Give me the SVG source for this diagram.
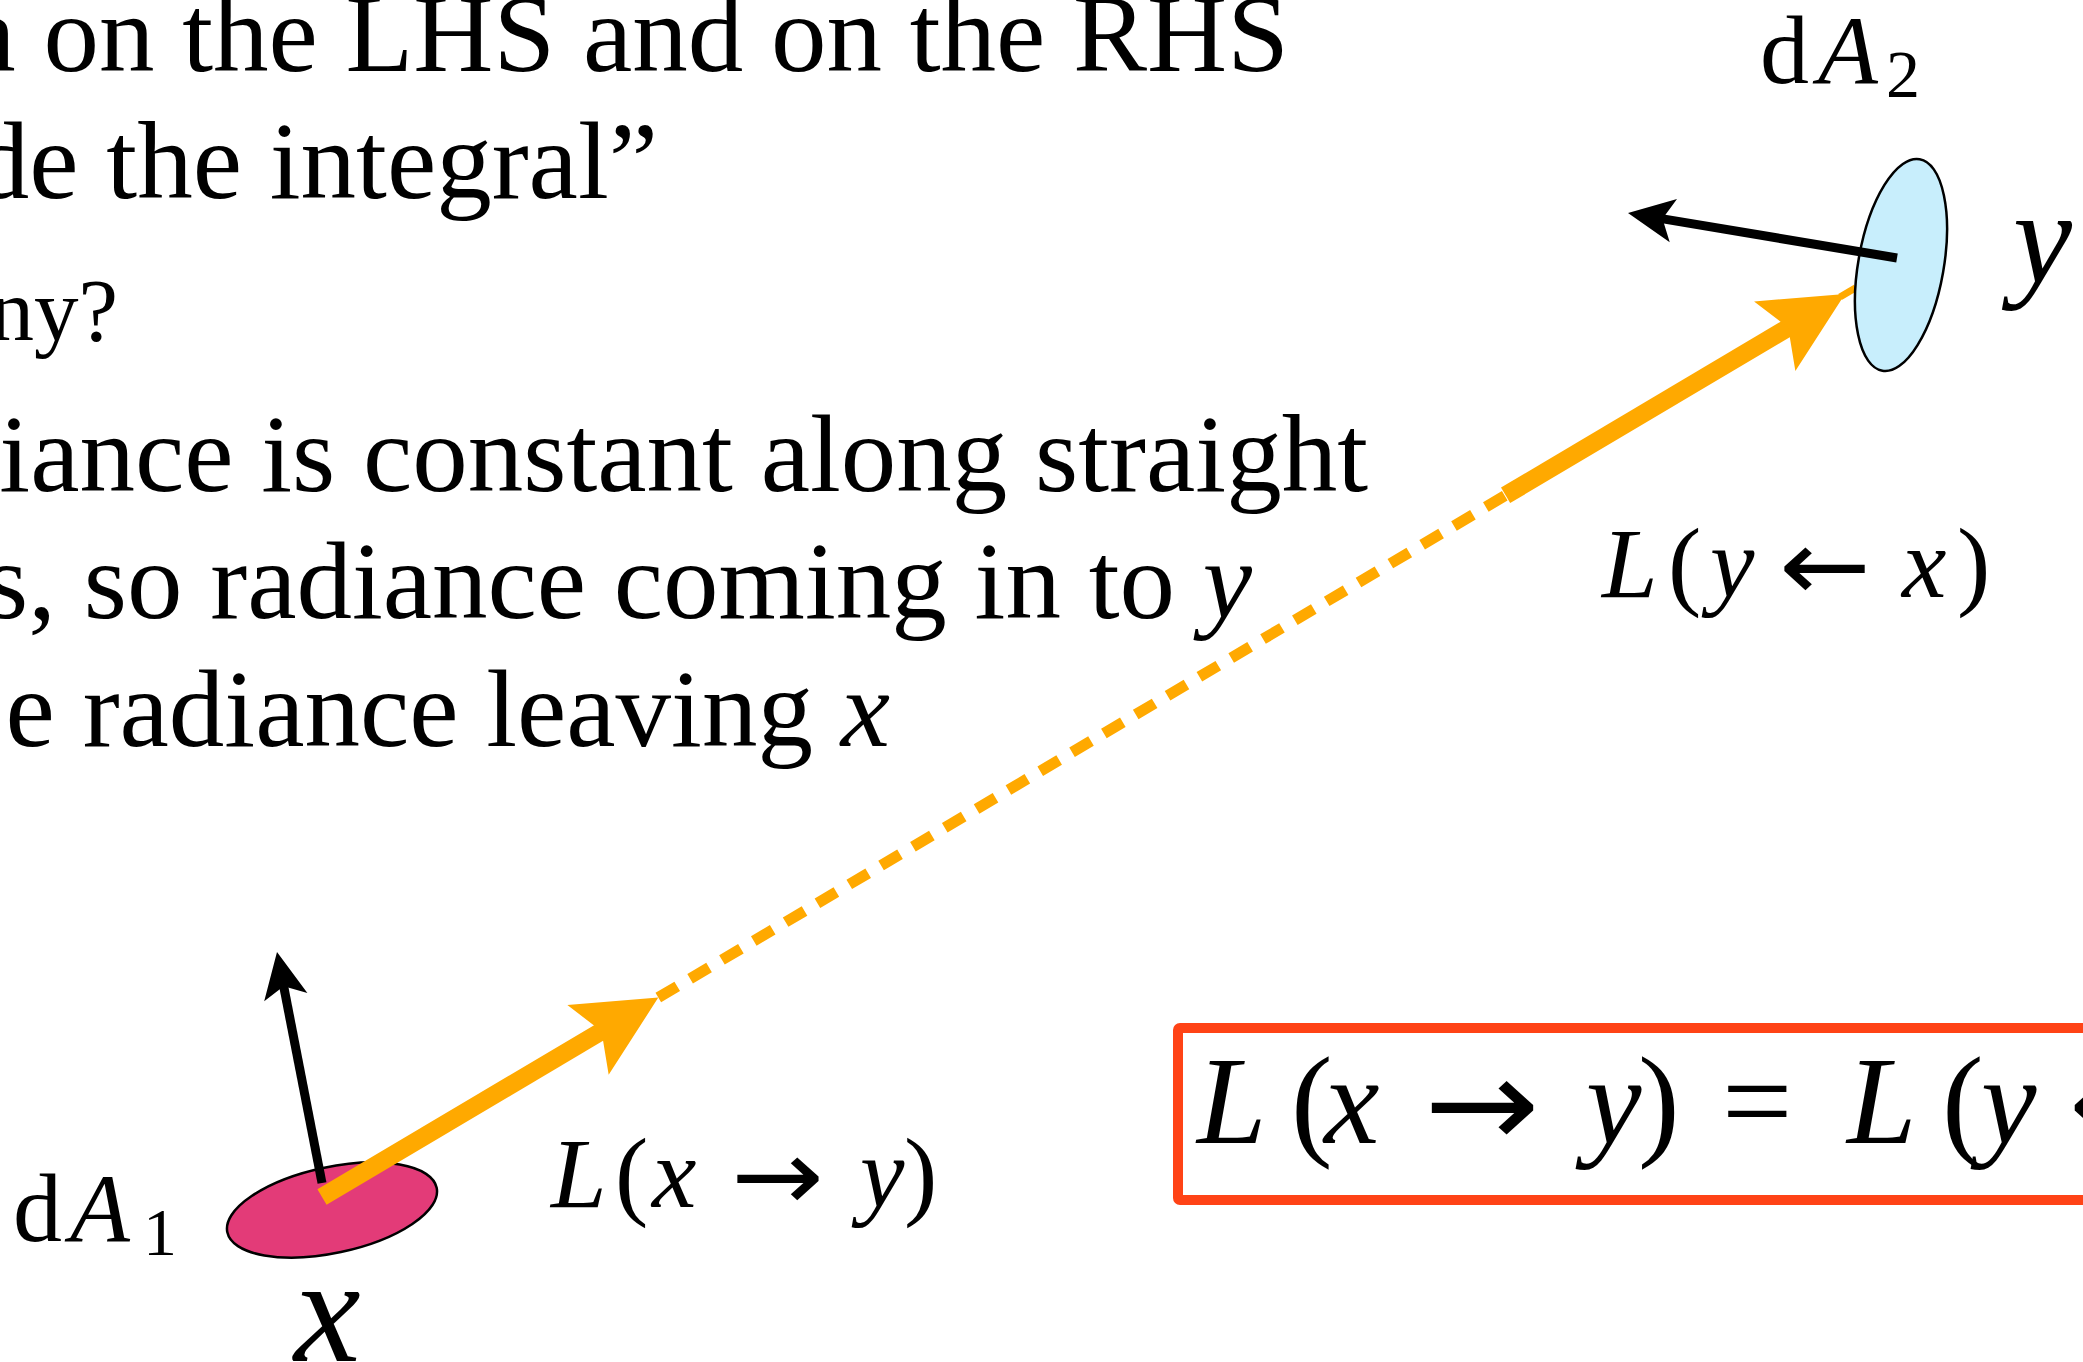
<svg xmlns="http://www.w3.org/2000/svg" width="2083" height="1362" viewBox="0 0 2083 1362">
<style>
  .body { font-family: "Liberation Serif", "Times New Roman", serif; font-size: 111px; fill: #000; }
  .m { font-family: "Liberation Serif", "Times New Roman", serif; fill: #000; }
  .arr { font-family: "DejaVu Sans", "Liberation Sans", sans-serif; fill: #000; }
  .i { font-style: italic; }
  .orange { stroke: #FFA900; fill: none; }
  .normal { stroke: #000; stroke-width: 9; fill: none; }
</style>
<defs>
  <path id="headBlack" d="M0,0 L-46,-22 L-35,0 L-46,22 Z" fill="#000"/>
  <path id="headOrange" d="M0,0 L-82,-40 L-66,0 L-82,41 Z" fill="#FFA900"/>
</defs>
<rect width="2083" height="1362" fill="#fff"/>

<g id="text">
  <text class="body" x="1289" y="71" text-anchor="end">n on the LHS and on the RHS</text>
  <text class="body" x="658" y="198" text-anchor="end">de the integral”</text>
  <text class="body" x="118" y="340" text-anchor="end" style="font-size:89px">ny?</text>
  <text class="body" x="1368" y="491" text-anchor="end">iance is constant along straight</text>
  <text class="body" x="1252" y="618" text-anchor="end">s, so radiance coming in to <tspan class="i">y</tspan></text>
  <text class="body" x="890" y="746" text-anchor="end">e radiance leaving <tspan class="i">x</tspan></text>
</g>

<g id="node-x">
  <ellipse cx="332" cy="1210" rx="107" ry="43" transform="rotate(-12 332 1210)" fill="#E33B78" stroke="#000" stroke-width="2.5"/>
  <text class="m" y="1241" style="font-size:98px"><tspan x="13">d</tspan><tspan class="i" x="70">A</tspan><tspan x="143" y="1255" style="font-size:68px">1</tspan></text>
  <text class="m i" x="294" y="1361" style="font-size:150px">x</text>
</g>

<g id="node-y">
  <text class="m" y="83" style="font-size:98px"><tspan x="1760">d</tspan><tspan class="i" x="1818">A</tspan><tspan x="1886" y="97" style="font-size:68px">2</tspan></text>
  <text class="m i" x="2013" y="283" style="font-size:133px">y</text>
</g>

<g id="connectors">
  <line class="normal" x1="322" y1="1183" x2="283.5" y2="985.4"/>
  <use href="#headBlack" transform="translate(277 952) rotate(-101.02)"/>
  <line class="orange" x1="322" y1="1197" x2="614.5" y2="1023.6" stroke-width="18"/>
  <use href="#headOrange" transform="translate(658.3 997.6) rotate(-30.66)"/>
  <line class="orange" x1="658.3" y1="997.6" x2="1505.6" y2="495.3" stroke-width="11" stroke-dasharray="22 15"/>
  <line class="orange" x1="1505.6" y1="495.3" x2="1801.5" y2="319.8" stroke-width="18"/>
  <use href="#headOrange" transform="translate(1845 294) rotate(-30.66)"/>
  <line class="orange" x1="1840" y1="297" x2="1855.7" y2="287.7" stroke-width="7"/>
</g>

<g id="node-y-disc">
  <ellipse cx="1901" cy="265" rx="42.7" ry="107.4" transform="rotate(10 1901 265)" fill="#C8EEFC" stroke="#000" stroke-width="2.5"/>
  <line class="normal" x1="1897" y1="258" x2="1661.5" y2="218.6"/>
  <use href="#headBlack" transform="translate(1628 213) rotate(-170.5)"/>
</g>

<g id="label-xy">
  <text class="m" y="1207" style="font-size:100px"><tspan class="i" x="551">L</tspan><tspan x="615">(</tspan><tspan class="i" x="652">x</tspan><tspan class="i" x="860">y</tspan><tspan x="904">)</tspan></text>
  <text class="arr" x="731" y="1210" style="font-size:100px" textLength="93" lengthAdjust="spacingAndGlyphs">→</text>
</g>
<g id="label-yx">
  <text class="m" y="597" style="font-size:100px"><tspan class="i" x="1602">L</tspan><tspan x="1668">(</tspan><tspan class="i" x="1710">y</tspan><tspan class="i" x="1902">x</tspan><tspan x="1957">)</tspan></text>
  <text class="arr" x="1779" y="600" style="font-size:100px" textLength="92" lengthAdjust="spacingAndGlyphs">←</text>
</g>

<g id="equation-box">
  <rect x="1178" y="1028" width="1000" height="172" rx="2" fill="none" stroke="#FF4316" stroke-width="10"/>
  <text class="m" y="1143" style="font-size:125px"><tspan class="i" x="1197">L</tspan><tspan x="1291">(</tspan><tspan class="i" x="1324">x</tspan><tspan class="i" x="1586">y</tspan><tspan x="1638">)</tspan><tspan x="1722">=</tspan><tspan class="i" x="1847">L</tspan><tspan x="1942">(</tspan><tspan class="i" x="1981">y</tspan></text>
  <text class="arr" x="1424" y="1147" style="font-size:125px" textLength="116" lengthAdjust="spacingAndGlyphs">→</text>
  <text class="arr" x="2068" y="1147" style="font-size:125px" textLength="116" lengthAdjust="spacingAndGlyphs">←</text>
</g>
</svg>
